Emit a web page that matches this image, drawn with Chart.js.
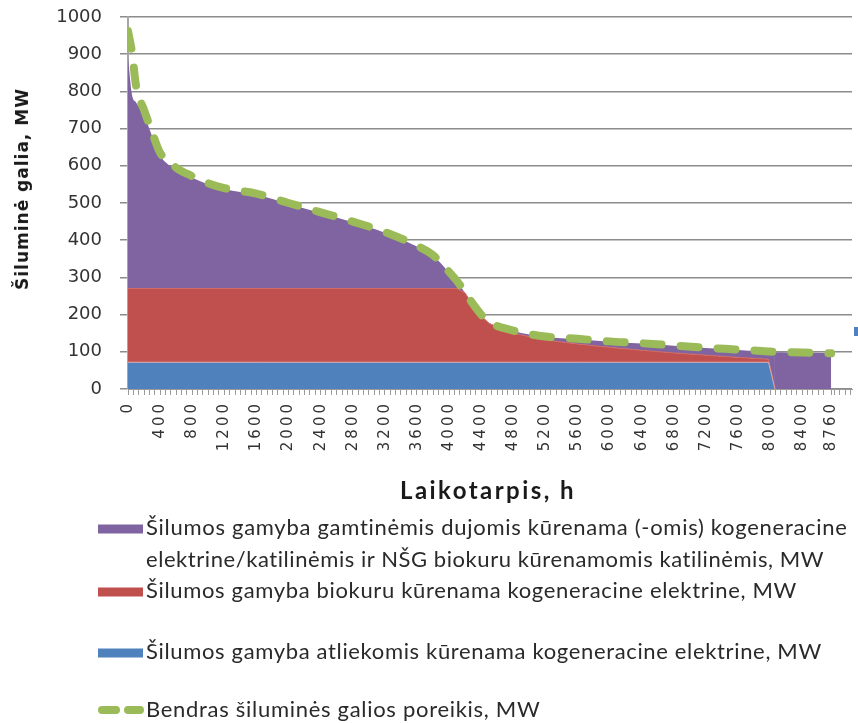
<!DOCTYPE html>
<html><head><meta charset="utf-8">
<script src="https://cdn.jsdelivr.net/npm/chart.js@4.4.1/dist/chart.umd.min.js"></script>
<style>
html,body{margin:0;padding:0;background:#fff;}
#wrap{position:relative;width:858px;height:723px;overflow:hidden;background:#fff;}
#c{position:absolute;left:0;top:0;}
.ytitle{position:absolute;left:22px;top:189px;transform:translate(-50%,-50%) rotate(-90deg);font:bold 17px "DejaVu Sans";white-space:nowrap;color:#1a1a1a;}
.xtitle{position:absolute;left:488px;top:489px;transform:translate(-50%,-50%);font:bold 24px Lato;white-space:nowrap;color:#1a1a1a;}
.lg{position:absolute;left:146px;font:22px Lato;color:#2a2a2a;white-space:nowrap;transform:translateY(-50%);line-height:24px;}
.mk{position:absolute;left:98px;width:45px;height:9px;transform:translateY(-50%);}
</style></head>
<body>
<div id="wrap">
<canvas id="c" width="858" height="723"></canvas>
<div class="ytitle" data-w="202">Šiluminė galia, MW</div>
<div class="xtitle" data-w="176">Laikotarpis, h</div>

<div class="mk" style="top:529px;background:#8064A2"></div>
<div class="lg" style="top:527px" data-w="702">Šilumos gamyba gamtinėmis dujomis kūrenama (-omis) kogeneracine</div>
<div class="lg" style="top:559px" data-w="679">elektrine/katilinėmis ir NŠG biokuru kūrenamomis katilinėmis, MW</div>
<div class="mk" style="top:592px;background:#C0504D"></div>
<div class="lg" style="top:590px" data-w="651">Šilumos gamyba biokuru kūrenama kogeneracine elektrine, MW</div>
<div class="mk" style="top:653px;background:#4F81BD"></div>
<div class="lg" style="top:651px" data-w="676">Šilumos gamyba atliekomis kūrenama kogeneracine elektrine, MW</div>
<svg style="position:absolute;left:96px;top:702px" width="52" height="16"><line x1="6" y1="8" x2="44" y2="8" stroke="#9BBB59" stroke-width="8" stroke-linecap="round" stroke-dasharray="14 12"/></svg>
<div class="lg" style="top:709px" data-w="394">Bendras šiluminės galios poreikis, MW</div>
<div style="position:absolute;left:854px;top:327px;width:4px;height:9px;background:#4F81BD"></div>
</div>
<script>
// hours of the year (load duration curve)
const hours = [0, 50, 100, 200, 300, 400, 600, 800, 1000, 1200, 1600, 2000, 2400, 2800, 3200, 3600, 3800, 4000, 4100, 4200, 4300, 4400, 4500, 4800, 5200, 5600, 6000, 6400, 6800, 7200, 7600, 7980, 8060, 8400, 8760];
// stacked series, MW
const wasteHeat = [72, 72, 72, 72, 72, 72, 72, 72, 72, 72, 72, 72, 72, 72, 72, 72, 72, 72, 72, 72, 72, 72, 72, 72, 72, 72, 72, 72, 72, 72, 72, 72, 0, 0, 0];
const biofuelHeat = [198, 198, 198, 198, 198, 198, 198, 198, 198, 198, 198, 198, 198, 198, 198, 198, 198, 198, 198, 186, 153, 125, 104, 78, 60, 49, 40, 32, 25, 19, 13, 8, 0, 0, 0];
const gasHeat = [620, 520, 500, 465, 410, 358, 320, 298, 280, 267, 252, 228, 203, 178, 150, 113, 88, 43, 18, 0, 1, 1, 2, 6, 8, 13, 15, 18, 19, 19, 20, 20, 99, 98, 97];
// total heat demand, MW
const demand = [962, 905, 815, 750, 690, 635, 595, 572, 553, 540, 525, 500, 475, 450, 422, 385, 360, 315, 290, 260, 228, 200, 180, 157, 141, 135, 128, 123, 117, 111, 106, 101, 100, 98, 96];
// axis ticks
const yTicks = [0, 100, 200, 300, 400, 500, 600, 700, 800, 900, 1000];
const xTickLabels = [0, 400, 800, 1200, 1600, 2000, 2400, 2800, 3200, 3600, 4000, 4400, 4800, 5200, 5600, 6000, 6400, 6800, 7200, 7600, 8000, 8400, 8760];

const pts = arr => hours.map((h, i) => ({x: h, y: arr[i]}));
const labelSet = new Set(xTickLabels);
const X_MAX = 9020;
const hideAfterEnd = ctx => (ctx.p0.parsed.x >= 8060 ? 'rgba(0,0,0,0)' : undefined);

const chart = new Chart(document.getElementById('c'), {
  type: 'line',
  data: {
    datasets: [
      {label: 'Šilumos gamyba atliekomis kūrenama kogeneracine elektrine, MW', data: pts(wasteHeat),
       backgroundColor: '#4F81BD', borderColor: 'rgba(235,170,170,0.9)', borderWidth: 1, fill: 'origin', pointRadius: 0, tension: 0, stack: 's',
       segment: {borderColor: hideAfterEnd}},
      {label: 'Šilumos gamyba biokuru kūrenama kogeneracine elektrine, MW', data: pts(biofuelHeat),
       backgroundColor: '#C0504D', borderColor: '#D06B68', borderWidth: 1, fill: '-1', pointRadius: 0, tension: 0, stack: 's',
       segment: {borderColor: hideAfterEnd}},
      {label: 'Šilumos gamyba gamtinėmis dujomis ...', data: pts(gasHeat),
       backgroundColor: '#8064A2', borderColor: '#8064A2', borderWidth: 0, fill: '-1', pointRadius: 0, cubicInterpolationMode: 'monotone', stack: 's'},
      {label: 'Bendras šiluminės galios poreikis, MW', data: pts(demand),
       borderColor: '#9BBB59', borderWidth: 8, borderDash: [18, 19], borderCapStyle: 'round', fill: false,
       pointRadius: 0, cubicInterpolationMode: 'monotone', stack: 'd', order: -1}
    ]
  },
  options: {
    responsive: false, animation: false,
    layout: {padding: {top: 17, right: 6, left: 0, bottom: 0}},
    plugins: {legend: {display: false}, tooltip: {enabled: false}},
    scales: {
      x: {
        type: 'linear', min: 0, max: X_MAX,
        afterBuildTicks(scale) {
          const t = [];
          for (let k = 0; k * 400 / 6 <= X_MAX; k++) {
            const v = k * 400 / 6;
            if (Math.abs(v - 8760) < 40) continue;
            t.push({value: v});
          }
          t.push({value: 8760});
          t.sort((a, b) => a.value - b.value);
          scale.ticks = t;
        },
        afterFit(scale) { scale.height = 723 - 389; scale.paddingLeft = 0; scale.paddingRight = 0; },
        ticks: {
          autoSkip: false, minRotation: 90, maxRotation: 90, padding: 6,
          color: '#333', font: {family: 'DejaVu Sans', size: 15},
          callback: v => { const r = Math.round(v); return (labelSet.has(r) && Math.abs(v - r) < 1e-6) ? String(r) : ''; }
        },
        grid: {drawOnChartArea: false, drawTicks: true, tickLength: 6, color: '#9a9a9a', lineWidth: 1},
        border: {display: true, color: '#9a9a9a', width: 1}
      },
      y: {
        stacked: true, min: 0, max: 1000,
        afterBuildTicks(scale) { scale.ticks = yTicks.map(v => ({value: v})); },
        afterFit(scale) { scale.width = 128; scale.paddingTop = 0; scale.paddingBottom = 0; },
        ticks: {padding: 18, color: '#333', font: {family: 'DejaVu Sans', size: 18}, callback: v => String(v)},
        grid: {color: '#8c8c8c', lineWidth: 1.5, tickLength: 8},
        border: {display: true, color: '#a6a6a6', width: 2}
      }
    }
  }
});

// slightly spaced x tick labels (like the original rendering)
const xs = chart.scales.x;
const origDrawLabels = xs.drawLabels.bind(xs);
xs.drawLabels = function (area) {
  const ctx = chart.ctx; ctx.save();
  try { ctx.letterSpacing = '3px'; } catch (e) {}
  origDrawLabels(area); ctx.restore();
};
chart.draw();

// fit text widths to the original
function fitAll() {
  document.querySelectorAll('[data-w]').forEach(el => {
    el.style.letterSpacing = '0px';
    const w = el.scrollWidth;
    const n = el.textContent.length;
    el.style.letterSpacing = ((+el.dataset.w - w) / n) + 'px';
  });
}
fitAll();
if (document.fonts && document.fonts.ready) document.fonts.ready.then(fitAll);
</script>
</body></html>
